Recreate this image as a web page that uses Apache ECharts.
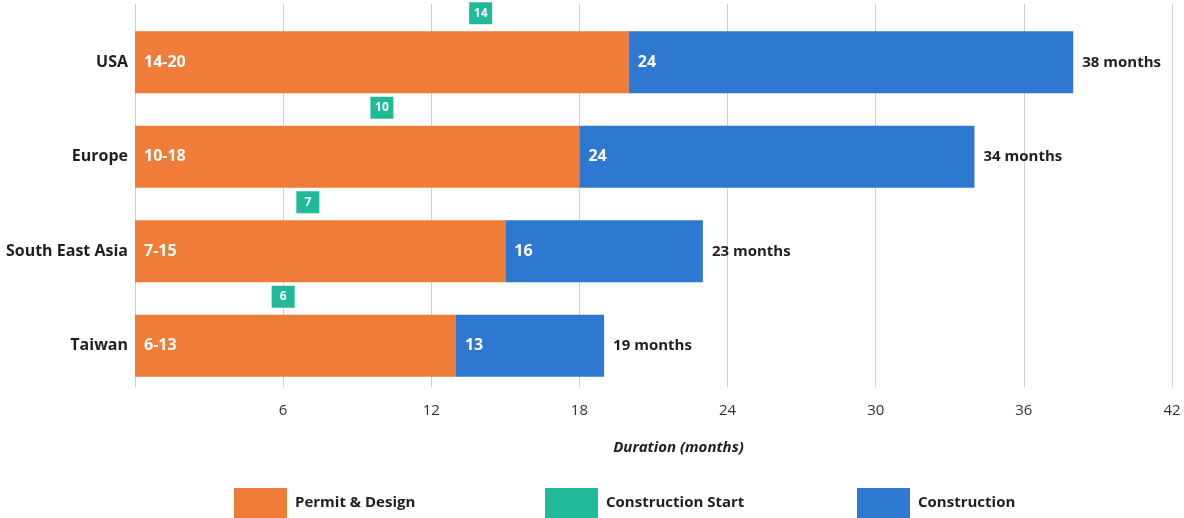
<!DOCTYPE html>
<html>
<head>
<meta charset="utf-8">
<script src="https://cdn.jsdelivr.net/npm/echarts@6/dist/echarts.min.js"></script>
<style>
  html, body { margin: 0; padding: 0; background: #fff; }
  #chart { width: 1184px; height: 518px; }
</style>
</head>
<body>
<div id="chart"></div>
<script>
// Project timeline by region (months)
const regions = ['USA', 'Europe', 'South East Asia', 'Taiwan'];
const permitRange = ['14-20', '10-18', '7-15', '6-13'];
const permitEnd = [20, 18, 15, 13];
const constructionStart = [14, 10, 7, 6];
const constructionMonths = [24, 24, 16, 13];
const totalMonths = [38, 34, 23, 19];
const xTicks = [0, 6, 12, 18, 24, 30, 36, 42];

const ORANGE = '#EF7C38';
const GREEN = '#20BA98';
const BLUE = '#2E78D2';
const FONT = '"Open Sans", sans-serif';

const chart = echarts.init(document.getElementById('chart'));

// blue segment runs from end of permitting to the total
const constructionSpan = totalMonths.map((t, i) => t - permitEnd[i]);

const legendBase = {
  orient: 'horizontal',
  top: 488,
  padding: 0,
  itemWidth: 53,
  itemHeight: 30,
  itemGap: 0,
  icon: 'rect',
  textStyle: { fontFamily: FONT, fontWeight: 'bold', fontSize: 15, color: '#1f1f1f', padding: [0, 0, 0, 3] },
  selectedMode: false
};

chart.setOption({
  animation: false,
  grid: [
    { left: 135, right: 12, top: 4, bottom: 131 },   // gridlines
    { left: 135, right: 12, top: 15, bottom: 125 }   // bars
  ],
  legend: [
    Object.assign({}, legendBase, { left: 234, data: ['Permit & Design'] }),
    Object.assign({}, legendBase, { left: 545, data: ['Construction Start'] }),
    Object.assign({}, legendBase, { left: 857, data: ['Construction'] })
  ],
  xAxis: [
    {
      gridIndex: 0, type: 'value', min: xTicks[0], max: xTicks[xTicks.length - 1], interval: 6,
      axisLine: { show: false }, axisTick: { show: false }, axisLabel: { show: false },
      splitLine: { show: true, lineStyle: { color: '#cfcfcf', width: 1 } }
    },
    {
      gridIndex: 1, type: 'value', min: xTicks[0], max: xTicks[xTicks.length - 1], interval: 6,
      axisLine: { show: false }, axisTick: { show: false },
      splitLine: { show: false },
      axisLabel: {
        margin: 10, fontFamily: FONT, fontSize: 15, color: '#333',
        formatter: v => (v === 0 ? '' : String(v))
      },
      name: 'Duration (months)',
      nameLocation: 'middle',
      nameGap: 47,
      nameTextStyle: {
        fontFamily: FONT, fontStyle: 'italic', fontWeight: 'bold', fontSize: 15, color: '#1f1f1f',
        padding: [0, 0, 0, 50]
      }
    }
  ],
  yAxis: [
    { gridIndex: 0, type: 'value', show: false },
    {
      gridIndex: 1, type: 'category', data: regions, inverse: true,
      axisLine: { show: false }, axisTick: { show: false },
      axisLabel: { margin: 7, fontFamily: FONT, fontWeight: 'bold', fontSize: 16, color: '#1f1f1f' }
    }
  ],
  series: [
    {
      name: 'Permit & Design', type: 'bar', stack: 'total', xAxisIndex: 1, yAxisIndex: 1,
      barWidth: 62, itemStyle: { color: ORANGE },
      data: permitEnd,
      label: {
        show: true, position: 'insideLeft', distance: 9,
        fontFamily: FONT, fontWeight: 'bold', fontSize: 16, color: '#fff',
        formatter: p => permitRange[p.dataIndex]
      }
    },
    {
      name: 'Construction', type: 'bar', stack: 'total', xAxisIndex: 1, yAxisIndex: 1,
      barWidth: 62, itemStyle: { color: BLUE },
      data: constructionSpan,
      label: {
        show: true, position: 'insideLeft', distance: 9,
        fontFamily: FONT, fontWeight: 'bold', fontSize: 16, color: '#fff',
        formatter: p => String(constructionMonths[p.dataIndex])
      }
    },
    {
      name: 'Construction Start', type: 'scatter', xAxisIndex: 1, yAxisIndex: 1,
      symbol: 'rect', symbolSize: [23, 22], symbolOffset: [0, -49],
      itemStyle: { color: GREEN, opacity: 1 },
      data: constructionStart.map((v, i) => [v, regions[i]]),
      label: {
        show: true, position: 'inside',
        fontFamily: FONT, fontWeight: 'bold', fontSize: 12, color: '#fff',
        formatter: p => String(p.value[0])
      },
      z: 5
    },
    {
      name: 'total', type: 'scatter', xAxisIndex: 1, yAxisIndex: 1,
      symbolSize: 0, silent: true,
      itemStyle: { opacity: 1 },
      data: totalMonths.map((v, i) => [v, regions[i]]),
      label: {
        show: true, position: 'right', distance: 9,
        fontFamily: FONT, fontWeight: 'bold', fontSize: 15, color: '#1f1f1f',
        formatter: p => p.value[0] + ' months'
      }
    }
  ]
});
</script>
</body>
</html>
